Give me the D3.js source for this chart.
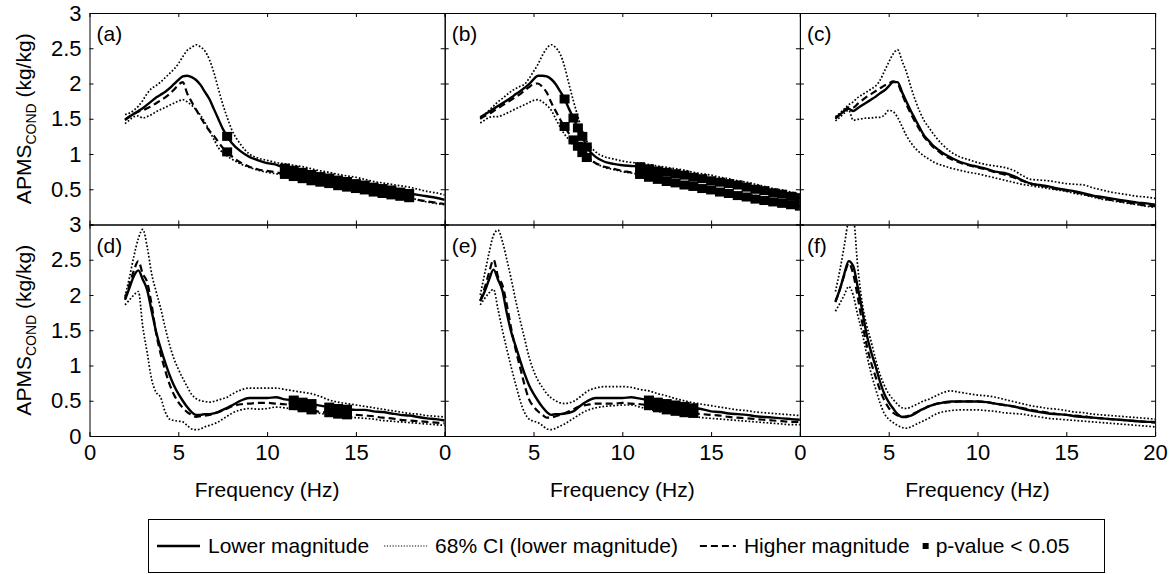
<!DOCTYPE html>
<html>
<head>
<meta charset="utf-8">
<script src="https://cdn.jsdelivr.net/npm/d3@7"></script>
<style>
body { margin: 0; background: #fff; }
svg text { font-family: "Liberation Sans", Arial, Helvetica, sans-serif; fill: #000; }
</style>
</head>
<body>
<svg class="chart" width="1172" height="574"></svg>
<script>
// frequency grid (Hz), shared by every curve
var freqs = [2, 2.25, 2.5, 2.75, 3, 3.25, 3.5, 3.75, 4, 4.25, 4.5, 4.75, 5, 5.25, 5.5, 5.75,
    6, 6.25, 6.5, 6.75, 7, 7.25, 7.5, 7.75, 8, 8.5, 9, 9.5, 10, 10.5, 11, 11.5, 12, 12.5,
    13, 13.5, 14, 14.5, 15, 15.5, 16, 16.5, 17, 17.5, 18, 18.5, 19, 19.5, 20];

var xTicks = [0, 5, 10, 15, 20];
var yTicks = [0, 0.5, 1, 1.5, 2, 2.5, 3];
var panelTags = ["(a)", "(b)", "(c)", "(d)", "(e)", "(f)"];
var legendLabels = ["Lower magnitude", "68% CI (lower magnitude)", "Higher magnitude", "p-value < 0.05"];

// (a)
var aLow = [1.49, 1.53, 1.57, 1.61, 1.65, 1.70, 1.75, 1.80, 1.84, 1.88, 1.93, 1.99, 2.05, 2.10, 2.11, 2.09,
    2.05, 1.98, 1.88, 1.78, 1.64, 1.50, 1.36, 1.25, 1.16, 1.04, 0.96, 0.91, 0.87, 0.85, 0.80, 0.77, 0.74, 0.71,
    0.68, 0.66, 0.63, 0.61, 0.58, 0.56, 0.53, 0.51, 0.49, 0.46, 0.44, 0.42, 0.40, 0.38, 0.35];
var aHigh = [1.48, 1.53, 1.57, 1.60, 1.62, 1.65, 1.68, 1.72, 1.76, 1.80, 1.85, 1.91, 1.98, 2.02, 1.86, 1.74,
    1.63, 1.52, 1.42, 1.33, 1.26, 1.17, 1.09, 1.03, 0.97, 0.88, 0.82, 0.78, 0.76, 0.74, 0.71, 0.68, 0.65, 0.62,
    0.60, 0.58, 0.55, 0.53, 0.51, 0.49, 0.46, 0.44, 0.42, 0.40, 0.38, 0.35, 0.33, 0.31, 0.29];
var aCiUp = [1.56, 1.58, 1.62, 1.68, 1.76, 1.86, 1.93, 1.97, 2.02, 2.08, 2.14, 2.20, 2.28, 2.38, 2.47, 2.51,
    2.55, 2.52, 2.46, 2.34, 2.16, 1.93, 1.71, 1.52, 1.35, 1.14, 1.00, 0.94, 0.91, 0.88, 0.86, 0.84, 0.82, 0.79,
    0.76, 0.74, 0.71, 0.69, 0.67, 0.64, 0.61, 0.59, 0.57, 0.55, 0.53, 0.50, 0.47, 0.45, 0.42];
var aCiDown = [1.43, 1.48, 1.53, 1.54, 1.51, 1.53, 1.56, 1.60, 1.63, 1.66, 1.69, 1.72, 1.75, 1.77, 1.74, 1.69,
    1.63, 1.55, 1.45, 1.33, 1.21, 1.09, 1.02, 0.97, 0.93, 0.86, 0.81, 0.77, 0.74, 0.72, 0.70, 0.68, 0.65, 0.62,
    0.60, 0.58, 0.56, 0.54, 0.52, 0.49, 0.47, 0.44, 0.42, 0.40, 0.38, 0.35, 0.32, 0.30, 0.28];
var aSig = [7.75, 11, 11.5, 12, 12.5, 13, 13.5, 14, 14.5, 15, 15.5, 16, 16.5, 17, 17.5, 18];

// (b)
var bLow = [1.52, 1.56, 1.60, 1.64, 1.68, 1.72, 1.76, 1.80, 1.85, 1.89, 1.94, 1.99, 2.06, 2.11, 2.11, 2.10,
    2.06, 1.99, 1.89, 1.78, 1.64, 1.51, 1.37, 1.25, 1.10, 0.96, 0.89, 0.86, 0.84, 0.83, 0.82, 0.79, 0.76, 0.74,
    0.72, 0.70, 0.67, 0.65, 0.62, 0.60, 0.58, 0.56, 0.53, 0.50, 0.48, 0.45, 0.43, 0.40, 0.38];
var bHigh = [1.50, 1.54, 1.57, 1.61, 1.65, 1.69, 1.73, 1.77, 1.81, 1.85, 1.90, 1.95, 1.99, 2.00, 1.95, 1.87,
    1.73, 1.61, 1.49, 1.39, 1.29, 1.20, 1.11, 1.02, 0.95, 0.87, 0.82, 0.79, 0.76, 0.74, 0.71, 0.67, 0.64, 0.61,
    0.59, 0.56, 0.54, 0.51, 0.49, 0.46, 0.44, 0.41, 0.39, 0.36, 0.34, 0.32, 0.30, 0.28, 0.26];
var bCiUp = [1.50, 1.56, 1.62, 1.68, 1.74, 1.79, 1.84, 1.89, 1.93, 1.96, 1.99, 2.07, 2.17, 2.27, 2.40, 2.50,
    2.55, 2.51, 2.42, 2.24, 1.99, 1.75, 1.53, 1.33, 1.18, 1.03, 0.96, 0.93, 0.90, 0.88, 0.87, 0.85, 0.83, 0.81,
    0.79, 0.77, 0.74, 0.72, 0.70, 0.67, 0.65, 0.62, 0.60, 0.57, 0.54, 0.51, 0.49, 0.46, 0.43];
var bCiDown = [1.44, 1.48, 1.52, 1.53, 1.53, 1.55, 1.58, 1.61, 1.64, 1.67, 1.70, 1.73, 1.76, 1.77, 1.74, 1.69,
    1.62, 1.50, 1.38, 1.28, 1.20, 1.12, 1.05, 1.00, 0.96, 0.87, 0.81, 0.78, 0.75, 0.73, 0.71, 0.69, 0.66, 0.64,
    0.61, 0.59, 0.57, 0.55, 0.52, 0.50, 0.47, 0.45, 0.43, 0.41, 0.38, 0.36, 0.34, 0.32, 0.30];
var bSig = [6.75, 7.25, 7.5, 7.75, 8, 11, 11.5, 12, 12.5, 13, 13.5, 14, 14.5, 15, 15.5, 16, 16.5, 17, 17.5,
    18, 18.5, 19, 19.5, 20];

// (c)
var cLow = [1.51, 1.56, 1.61, 1.64, 1.61, 1.65, 1.69, 1.73, 1.77, 1.81, 1.86, 1.90, 1.96, 2.02, 2.02, 1.88,
    1.74, 1.61, 1.49, 1.37, 1.26, 1.19, 1.12, 1.07, 1.02, 0.95, 0.89, 0.85, 0.82, 0.79, 0.75, 0.73, 0.69, 0.63,
    0.58, 0.56, 0.54, 0.51, 0.49, 0.47, 0.44, 0.41, 0.39, 0.37, 0.35, 0.33, 0.31, 0.30, 0.28];
var cHigh = [1.50, 1.56, 1.62, 1.66, 1.66, 1.71, 1.76, 1.81, 1.85, 1.89, 1.93, 1.97, 2.00, 2.03, 2.00, 1.85,
    1.70, 1.57, 1.45, 1.34, 1.24, 1.17, 1.10, 1.05, 1.00, 0.93, 0.88, 0.84, 0.81, 0.78, 0.74, 0.71, 0.67, 0.62,
    0.58, 0.55, 0.53, 0.50, 0.48, 0.46, 0.43, 0.40, 0.37, 0.35, 0.33, 0.31, 0.29, 0.27, 0.26];
var cCiUp = [1.53, 1.58, 1.64, 1.70, 1.74, 1.80, 1.84, 1.88, 1.92, 1.96, 2.04, 2.17, 2.30, 2.42, 2.48, 2.32,
    2.16, 1.95, 1.76, 1.60, 1.47, 1.38, 1.29, 1.21, 1.14, 1.03, 0.96, 0.92, 0.88, 0.85, 0.83, 0.81, 0.77, 0.70,
    0.64, 0.63, 0.62, 0.60, 0.58, 0.57, 0.56, 0.52, 0.49, 0.46, 0.44, 0.42, 0.40, 0.39, 0.37];
var cCiDown = [1.47, 1.52, 1.58, 1.62, 1.48, 1.49, 1.50, 1.51, 1.51, 1.52, 1.52, 1.55, 1.62, 1.60, 1.52, 1.39,
    1.26, 1.16, 1.08, 1.02, 0.97, 0.93, 0.89, 0.86, 0.84, 0.80, 0.77, 0.74, 0.72, 0.69, 0.66, 0.63, 0.60, 0.57,
    0.55, 0.53, 0.51, 0.49, 0.47, 0.44, 0.42, 0.39, 0.36, 0.34, 0.32, 0.30, 0.28, 0.26, 0.24];
var cSig = [];

// (d)
var dLow = [1.93, 2.10, 2.27, 2.35, 2.22, 2.07, 1.77, 1.48, 1.25, 1.05, 0.87, 0.72, 0.60, 0.50, 0.41, 0.34,
    0.30, 0.30, 0.31, 0.31, 0.32, 0.34, 0.37, 0.40, 0.43, 0.50, 0.54, 0.54, 0.54, 0.55, 0.52, 0.51, 0.48, 0.46,
    0.43, 0.41, 0.39, 0.38, 0.37, 0.37, 0.35, 0.34, 0.32, 0.30, 0.29, 0.27, 0.25, 0.24, 0.22];
var dHigh = [1.95, 2.15, 2.35, 2.48, 2.30, 2.18, 1.86, 1.46, 1.17, 0.94, 0.74, 0.59, 0.48, 0.40, 0.34, 0.30,
    0.27, 0.28, 0.29, 0.30, 0.32, 0.34, 0.36, 0.39, 0.42, 0.45, 0.46, 0.47, 0.47, 0.46, 0.45, 0.43, 0.40, 0.37,
    0.34, 0.33, 0.31, 0.30, 0.30, 0.29, 0.28, 0.26, 0.25, 0.23, 0.22, 0.21, 0.20, 0.19, 0.18];
var dCiUp = [1.98, 2.25, 2.55, 2.80, 2.93, 2.68, 2.30, 2.05, 1.82, 1.55, 1.30, 1.10, 0.95, 0.82, 0.70, 0.59,
    0.53, 0.50, 0.49, 0.48, 0.49, 0.51, 0.53, 0.55, 0.59, 0.65, 0.68, 0.68, 0.68, 0.68, 0.66, 0.64, 0.62, 0.60,
    0.56, 0.51, 0.48, 0.46, 0.44, 0.42, 0.40, 0.38, 0.36, 0.34, 0.32, 0.31, 0.29, 0.28, 0.27];
var dCiDown = [1.86, 1.93, 2.00, 2.05, 1.55, 1.18, 0.80, 0.62, 0.55, 0.35, 0.24, 0.22, 0.21, 0.20, 0.15, 0.10,
    0.09, 0.10, 0.13, 0.15, 0.17, 0.20, 0.24, 0.28, 0.32, 0.37, 0.39, 0.38, 0.39, 0.41, 0.40, 0.38, 0.36, 0.34,
    0.32, 0.30, 0.28, 0.27, 0.26, 0.25, 0.24, 0.22, 0.21, 0.20, 0.19, 0.18, 0.17, 0.16, 0.15];
var dSig = [11.5, 12, 12.5, 13.5, 14, 14.5];

// (e)
var eLow = [1.91, 2.05, 2.22, 2.36, 2.22, 2.06, 1.74, 1.47, 1.27, 1.07, 0.88, 0.72, 0.60, 0.50, 0.41, 0.34,
    0.30, 0.31, 0.31, 0.32, 0.33, 0.35, 0.40, 0.45, 0.49, 0.54, 0.54, 0.54, 0.54, 0.55, 0.53, 0.51, 0.48, 0.46,
    0.44, 0.42, 0.40, 0.38, 0.35, 0.34, 0.32, 0.31, 0.30, 0.28, 0.27, 0.26, 0.25, 0.24, 0.23];
var eHigh = [1.92, 2.10, 2.32, 2.50, 2.26, 2.14, 1.86, 1.52, 1.22, 0.97, 0.72, 0.52, 0.42, 0.35, 0.30, 0.26,
    0.26, 0.28, 0.30, 0.32, 0.35, 0.38, 0.41, 0.43, 0.44, 0.46, 0.46, 0.46, 0.47, 0.46, 0.45, 0.43, 0.40, 0.37,
    0.35, 0.33, 0.32, 0.31, 0.30, 0.29, 0.27, 0.26, 0.25, 0.24, 0.23, 0.22, 0.21, 0.20, 0.20];
var eCiUp = [2.00, 2.30, 2.60, 2.85, 2.92, 2.76, 2.50, 2.22, 1.92, 1.64, 1.38, 1.12, 0.93, 0.79, 0.69, 0.60,
    0.54, 0.50, 0.47, 0.46, 0.47, 0.49, 0.53, 0.58, 0.63, 0.68, 0.70, 0.70, 0.70, 0.69, 0.66, 0.64, 0.60, 0.57,
    0.53, 0.50, 0.47, 0.45, 0.43, 0.41, 0.39, 0.37, 0.36, 0.34, 0.33, 0.32, 0.31, 0.30, 0.29];
var eCiDown = [1.86, 1.95, 2.03, 2.08, 1.80, 1.50, 1.23, 0.97, 0.73, 0.50, 0.33, 0.24, 0.21, 0.19, 0.15, 0.10,
    0.09, 0.11, 0.14, 0.17, 0.21, 0.25, 0.29, 0.33, 0.36, 0.40, 0.42, 0.43, 0.44, 0.44, 0.41, 0.38, 0.35, 0.33,
    0.31, 0.29, 0.28, 0.26, 0.25, 0.24, 0.23, 0.22, 0.21, 0.20, 0.19, 0.18, 0.17, 0.16, 0.16];
var eSig = [11.5, 12, 12.5, 13, 13.5, 14];

// (f)
var fLow = [1.91, 2.08, 2.30, 2.48, 2.41, 2.12, 1.79, 1.45, 1.20, 1.00, 0.78, 0.60, 0.48, 0.39, 0.31, 0.27,
    0.27, 0.29, 0.32, 0.36, 0.39, 0.42, 0.44, 0.46, 0.47, 0.49, 0.49, 0.49, 0.49, 0.48, 0.46, 0.44, 0.42, 0.39,
    0.36, 0.34, 0.32, 0.31, 0.30, 0.28, 0.27, 0.26, 0.25, 0.24, 0.23, 0.22, 0.21, 0.20, 0.20];
var fHigh = [1.90, 2.08, 2.28, 2.45, 2.30, 1.98, 1.62, 1.30, 1.05, 0.85, 0.66, 0.51, 0.40, 0.33, 0.29, 0.27,
    0.28, 0.30, 0.33, 0.36, 0.39, 0.42, 0.44, 0.46, 0.47, 0.48, 0.49, 0.49, 0.49, 0.48, 0.46, 0.44, 0.42, 0.40,
    0.37, 0.35, 0.33, 0.31, 0.30, 0.29, 0.28, 0.26, 0.25, 0.24, 0.23, 0.22, 0.21, 0.20, 0.19];
var fCiUp = [2.05, 2.35, 2.70, 3.05, 3.10, 2.42, 1.90, 1.58, 1.35, 1.10, 0.88, 0.72, 0.60, 0.52, 0.45, 0.40,
    0.39, 0.41, 0.44, 0.47, 0.50, 0.52, 0.55, 0.58, 0.61, 0.64, 0.62, 0.60, 0.58, 0.57, 0.55, 0.52, 0.49, 0.46,
    0.43, 0.41, 0.39, 0.38, 0.36, 0.34, 0.33, 0.31, 0.30, 0.29, 0.28, 0.27, 0.26, 0.25, 0.24];
var fCiDown = [1.77, 1.88, 2.00, 2.12, 2.00, 1.72, 1.47, 1.17, 0.90, 0.68, 0.48, 0.32, 0.24, 0.19, 0.15, 0.12,
    0.11, 0.13, 0.16, 0.19, 0.22, 0.25, 0.29, 0.32, 0.34, 0.36, 0.37, 0.37, 0.37, 0.36, 0.35, 0.33, 0.32, 0.31,
    0.29, 0.27, 0.25, 0.24, 0.23, 0.22, 0.21, 0.20, 0.19, 0.18, 0.17, 0.16, 0.15, 0.14, 0.13];
var fSig = [];

var panels = [
    { low: aLow, high: aHigh, ciUp: aCiUp, ciDown: aCiDown, sig: aSig },
    { low: bLow, high: bHigh, ciUp: bCiUp, ciDown: bCiDown, sig: bSig },
    { low: cLow, high: cHigh, ciUp: cCiUp, ciDown: cCiDown, sig: cSig },
    { low: dLow, high: dHigh, ciUp: dCiUp, ciDown: dCiDown, sig: dSig },
    { low: eLow, high: eHigh, ciUp: eCiUp, ciDown: eCiDown, sig: eSig },
    { low: fLow, high: fHigh, ciUp: fCiUp, ciDown: fCiDown, sig: fSig }
];

// layout of the 2 x 3 grid
var margin = { left: 89.5, top: 13 },
    panelW = 355.2, panelH = 211.5,
    tickFont = 22, labelFont = 21;

var svg = d3.select("svg.chart");

var solidStyle = { width: 2.4, dash: null },
    dashStyle = { width: 2.2, dash: "7,4" },
    dotStyle = { width: 1.7, dash: "1.7,1.9" };

function styleAxis(g) {
    g.attr("font-size", tickFont)
        .attr("font-family", null);
    g.selectAll("line").attr("stroke-width", 1);
}

panels.forEach(function (p, i) {
    var col = i % 3, row = Math.floor(i / 3);
    var x0 = margin.left + col * panelW, y0 = margin.top + row * panelH;

    var x = d3.scaleLinear().domain([0, 20]).range([x0, x0 + panelW]);
    var y = d3.scaleLinear().domain([0, 3]).range([y0 + panelH, y0]);

    svg.append("clipPath")
        .attr("id", "clip" + i)
        .append("rect")
        .attr("x", x0).attr("y", y0)
        .attr("width", panelW).attr("height", panelH);

    var plot = svg.append("g").attr("clip-path", "url(#clip" + i + ")");

    var line = d3.line()
        .x(function (d, k) { return x(freqs[k]); })
        .y(function (d) { return y(d); })
        .curve(d3.curveMonotoneX);

    var series = [
        [p.ciUp, dotStyle], [p.ciDown, dotStyle],
        [p.high, dashStyle], [p.low, solidStyle]
    ];
    series.forEach(function (s) {
        plot.append("path")
            .datum(s[0])
            .attr("d", line)
            .attr("fill", "none")
            .attr("stroke", "#000")
            .attr("stroke-width", s[1].width)
            .attr("stroke-dasharray", s[1].dash)
            .attr("stroke-linejoin", "round");
    });

    // p-value markers on both curves
    var marks = [];
    p.sig.forEach(function (f) {
        var k = freqs.indexOf(f);
        marks.push({ f: f, v: p.low[k] });
        marks.push({ f: f, v: p.high[k] });
    });
    plot.selectAll("rect.sig")
        .data(marks)
        .enter().append("rect")
        .attr("class", "sig")
        .attr("x", function (d) { return x(d.f) - 5; })
        .attr("y", function (d) { return y(d.v) - 4.5; })
        .attr("width", 10)
        .attr("height", 9)
        .attr("fill", "#000");

    // axes with inward ticks on all four sides
    var bottom = svg.append("g")
        .attr("transform", "translate(0," + (y0 + panelH) + ")")
        .call(d3.axisBottom(x).tickValues(xTicks).tickSize(-4).tickSizeOuter(0).tickPadding(8)
            .tickFormat(function (d) {
                if (row === 0) return "";
                if (d === 20 && col < 2) return "";
                return d;
            }));
    styleAxis(bottom);

    var topAxis = svg.append("g")
        .attr("transform", "translate(0," + y0 + ")")
        .call(d3.axisTop(x).tickValues(xTicks).tickSize(-4).tickSizeOuter(0).tickFormat(""));
    styleAxis(topAxis);

    var leftAxis = svg.append("g")
        .attr("transform", "translate(" + x0 + ",0)")
        .call(d3.axisLeft(y).tickValues(yTicks).tickSize(-4).tickSizeOuter(0).tickPadding(8)
            .tickFormat(function (d) {
                if (col > 0) return "";
                if (row === 0 && d === 0) return "";
                return d;
            }));
    styleAxis(leftAxis);

    var rightAxis = svg.append("g")
        .attr("transform", "translate(" + (x0 + panelW) + ",0)")
        .call(d3.axisRight(y).tickValues(yTicks).tickSize(-4).tickSizeOuter(0).tickFormat(""));
    styleAxis(rightAxis);

    svg.append("text")
        .text(panelTags[i])
        .attr("x", x0 + 7)
        .attr("y", y0 + 28)
        .attr("font-size", labelFont);

    if (row === 1) {
        svg.append("text")
            .text("Frequency (Hz)")
            .attr("x", x0 + panelW / 2)
            .attr("y", 497)
            .attr("text-anchor", "middle")
            .attr("font-size", labelFont);
    }

    if (col === 0) {
        var title = svg.append("text")
            .attr("transform", "translate(31," + (y0 + panelH / 2) + ") rotate(-90)")
            .attr("text-anchor", "middle")
            .attr("font-size", labelFont);
        title.append("tspan").text("APMS");
        title.append("tspan").text("COND").attr("font-size", 14).attr("dy", 5);
        title.append("tspan").text(" (kg/kg)").attr("dy", -5);
    }
});

// legend
var legend = svg.append("g");
var legendTop = 519, legendMid = 546, legendBase = 553;

legend.append("rect")
    .attr("x", 148.5).attr("y", legendTop + 0.5)
    .attr("width", 956).attr("height", 53)
    .attr("fill", "none")
    .attr("stroke", "#000")
    .attr("stroke-width", 1);

var cursor = 157;
var samples = [solidStyle, dotStyle, dashStyle, null];
var sampleLen = [43, 43, 36, 6];
var gapsAfter = [15, 22, 13, 0];

legendLabels.forEach(function (label, i) {
    var s = samples[i];
    if (s) {
        legend.append("line")
            .attr("x1", cursor).attr("x2", cursor + sampleLen[i])
            .attr("y1", legendMid).attr("y2", legendMid)
            .attr("stroke", "#000")
            .attr("stroke-width", i === 1 ? 1.2 : s.width)
            .attr("stroke-dasharray", i === 1 ? "1.2,1.6" : s.dash);
    } else {
        legend.append("rect")
            .attr("x", cursor).attr("y", legendMid - 3)
            .attr("width", 6).attr("height", 6)
            .attr("fill", "#000");
    }
    cursor += sampleLen[i] + (s ? 8 : 7);
    var t = legend.append("text")
        .text(label)
        .attr("x", cursor)
        .attr("y", legendBase)
        .attr("font-size", labelFont);
    cursor += t.node().getComputedTextLength() + gapsAfter[i];
});
</script>
</body>
</html>
